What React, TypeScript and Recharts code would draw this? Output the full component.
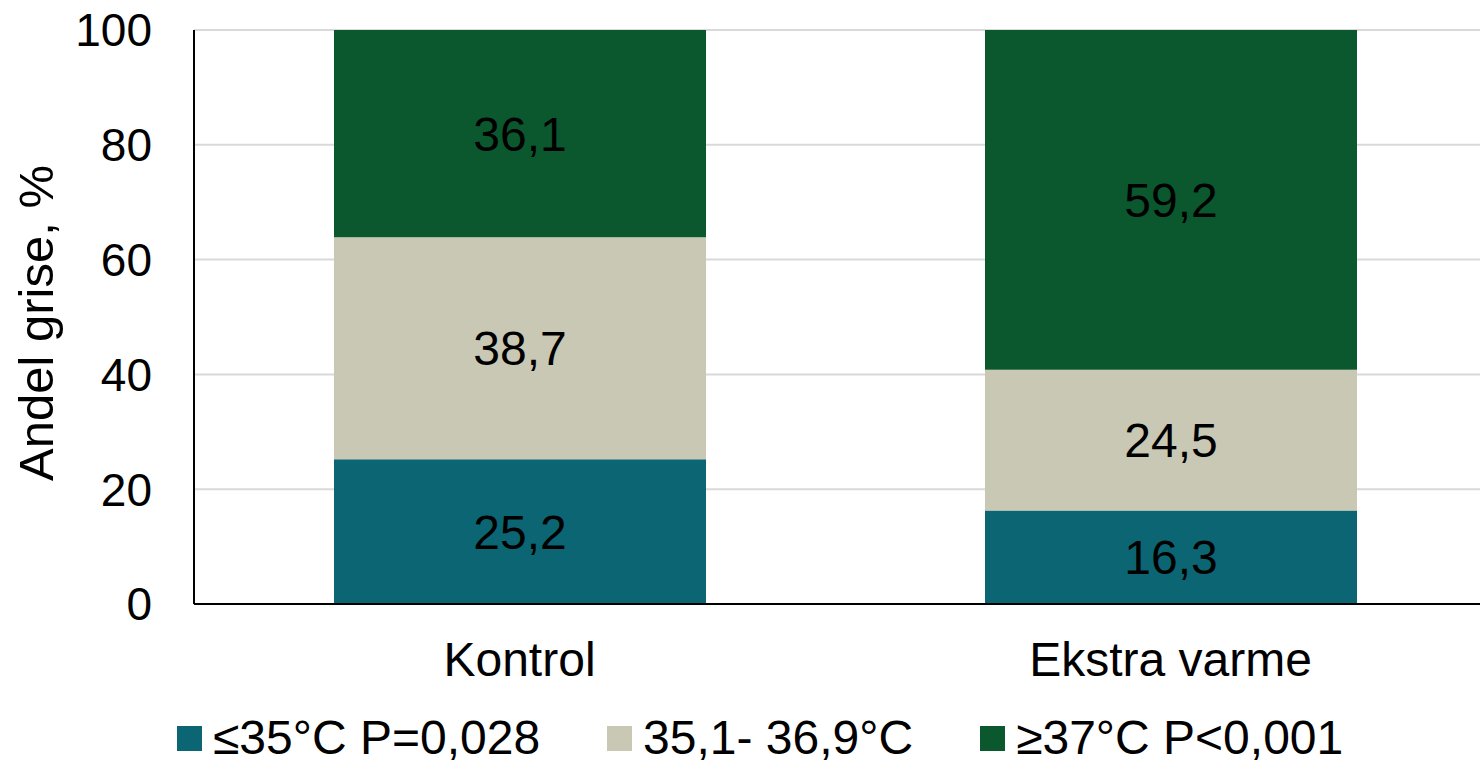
import { Bar, BarChart, CartesianGrid, LabelList, Legend, XAxis, YAxis } from "recharts";

const categories = ["Kontrol", "Ekstra varme"];
const lowTemp = [25.2, 16.3];
const midTemp = [38.7, 24.5];
const highTemp = [36.1, 59.2];
const yTicks = [0, 20, 40, 60, 80, 100];

const seriesNames = ["≤35°C P=0,028", "35,1- 36,9°C", "≥37°C P<0,001"];
const seriesColors = ["#0B6573", "#C8C8B4", "#0B572E"];

const data = categories.map((name, i) => ({
  name,
  low: lowTemp[i],
  mid: midTemp[i],
  high: highTemp[i],
}));

const FONT = "'Liberation Sans', Arial, sans-serif";

const fmt = (v: number) => String(v).replace(".", ",");

function LegendRow() {
  return (
    <div
      style={{
        display: "flex",
        justifyContent: "flex-start",
        alignItems: "center",
        paddingLeft: 177,
        fontFamily: FONT,
        fontSize: 48,
        lineHeight: "52px",
        color: "#000",
      }}
    >
      {seriesNames.map((n, i) => (
        <div
          key={n}
          style={{ display: "flex", alignItems: "center", marginRight: 67 }}
        >
          <span
            style={{
              display: "inline-block",
              width: 25,
              height: 25,
              background: seriesColors[i],
              marginRight: 11,
            }}
          />
          <span>{n}</span>
        </div>
      ))}
    </div>
  );
}

export default function App() {
  return (
    <div
      style={{
        position: "absolute",
        left: 0,
        top: 0,
        width: 1480,
        height: 764,
        overflow: "hidden",
        background: "#fff",
      }}
    >
      <BarChart
        width={1496}
        height={764}
        data={data}
        margin={{ top: 30, right: 0, left: 0, bottom: 0 }}
        style={{ fontFamily: FONT }}
      >
        <CartesianGrid horizontal vertical={false} stroke="#D9D9D9" strokeWidth={2} />
        <XAxis
          dataKey="name"
          height={80}
          tickLine={false}
          tickSize={0}
          tickMargin={38}
          axisLine={{ stroke: "#000", strokeWidth: 2 }}
          tick={{ fill: "#000", fontSize: 48 }}
        />
        <YAxis
          width={194}
          domain={[0, 100]}
          ticks={yTicks}
          tickLine={false}
          tickSize={0}
          tickMargin={42}
          axisLine={{ stroke: "#000", strokeWidth: 2 }}
          tick={{ fill: "#000", fontSize: 46 }}
          label={{
            value: "Andel grise, %",
            angle: -90,
            position: "insideLeft",
            dx: 31,
            dy: 6,
            style: { fill: "#000", fontSize: 49, textAnchor: "middle" },
          }}
        />
        <Legend
          verticalAlign="bottom"
          height={80}
          content={() => <LegendRow />}
          wrapperStyle={{ top: 712, left: 0, width: 1480 }}
        />
        <Bar dataKey="low" stackId="a" fill={seriesColors[0]} barSize={372} isAnimationActive={false}>
          <LabelList dataKey="low" position="center" formatter={fmt} fill="#000" fontSize={48} />
        </Bar>
        <Bar dataKey="mid" stackId="a" fill={seriesColors[1]} barSize={372} isAnimationActive={false}>
          <LabelList dataKey="mid" position="center" formatter={fmt} fill="#000" fontSize={48} />
        </Bar>
        <Bar dataKey="high" stackId="a" fill={seriesColors[2]} barSize={372} isAnimationActive={false}>
          <LabelList dataKey="high" position="center" formatter={fmt} fill="#000" fontSize={48} />
        </Bar>
      </BarChart>
    </div>
  );
}
